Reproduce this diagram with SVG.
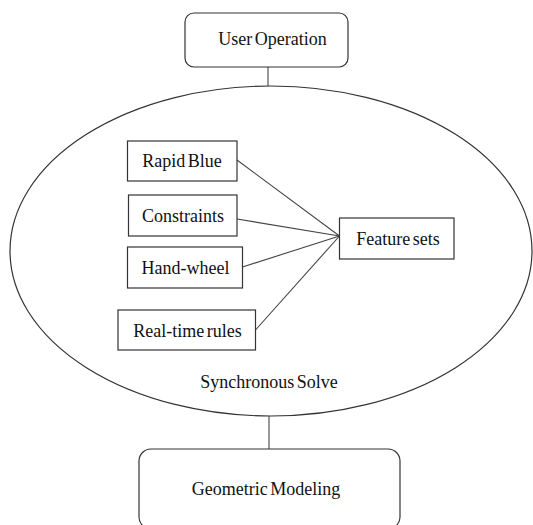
<svg xmlns="http://www.w3.org/2000/svg" width="533" height="525" viewBox="0 0 533 525">
<style>
.box{fill:#fff;stroke:#333;stroke-width:1.2}
.ln{stroke:#444;stroke-width:1.1;fill:none}
text{font-family:'Liberation Serif','DejaVu Serif',serif;font-size:18px;fill:#111;text-anchor:middle;word-spacing:-2px}
</style>
<rect width="533" height="525" fill="#fff"/>
<g id="ellipse-synchronous-solve">
<ellipse cx="271" cy="251" rx="261" ry="165" class="box"/>
<text x="269" y="388">Synchronous Solve</text>
</g>
<g id="connectors">
<line x1="268" y1="67" x2="268" y2="86" class="ln"/>
<line x1="269" y1="416" x2="269" y2="449" class="ln"/>
<line x1="237" y1="160" x2="339.5" y2="236" class="ln"/>
<line x1="237" y1="219" x2="339.5" y2="236" class="ln"/>
<line x1="242.5" y1="267" x2="339.5" y2="236" class="ln"/>
<line x1="255.5" y1="330" x2="339.5" y2="236" class="ln"/>
</g>
<g id="user-operation">
<rect x="185" y="13" width="163" height="54" rx="9" class="box"/>
<text x="272.5" y="45">User Operation</text>
</g>
<g id="rapid-blue">
<rect x="127.5" y="141" width="109.5" height="40" class="box"/>
<text x="182" y="167">Rapid Blue</text>
</g>
<g id="constraints">
<rect x="128.5" y="195" width="108.5" height="41" class="box"/>
<text x="183" y="222">Constraints</text>
</g>
<g id="hand-wheel">
<rect x="127.5" y="247" width="115" height="41" class="box"/>
<text x="185.5" y="274">Hand-wheel</text>
</g>
<g id="real-time-rules">
<rect x="118" y="310" width="137.5" height="40" class="box"/>
<text x="187.5" y="337">Real-time rules</text>
</g>
<g id="feature-sets">
<rect x="339.5" y="218" width="114.5" height="41" class="box"/>
<text x="398" y="245">Feature sets</text>
</g>
<g id="geometric-modeling">
<rect x="139" y="449" width="261" height="80" rx="12" class="box"/>
<text x="266" y="495">Geometric Modeling</text>
</g>
</svg>
